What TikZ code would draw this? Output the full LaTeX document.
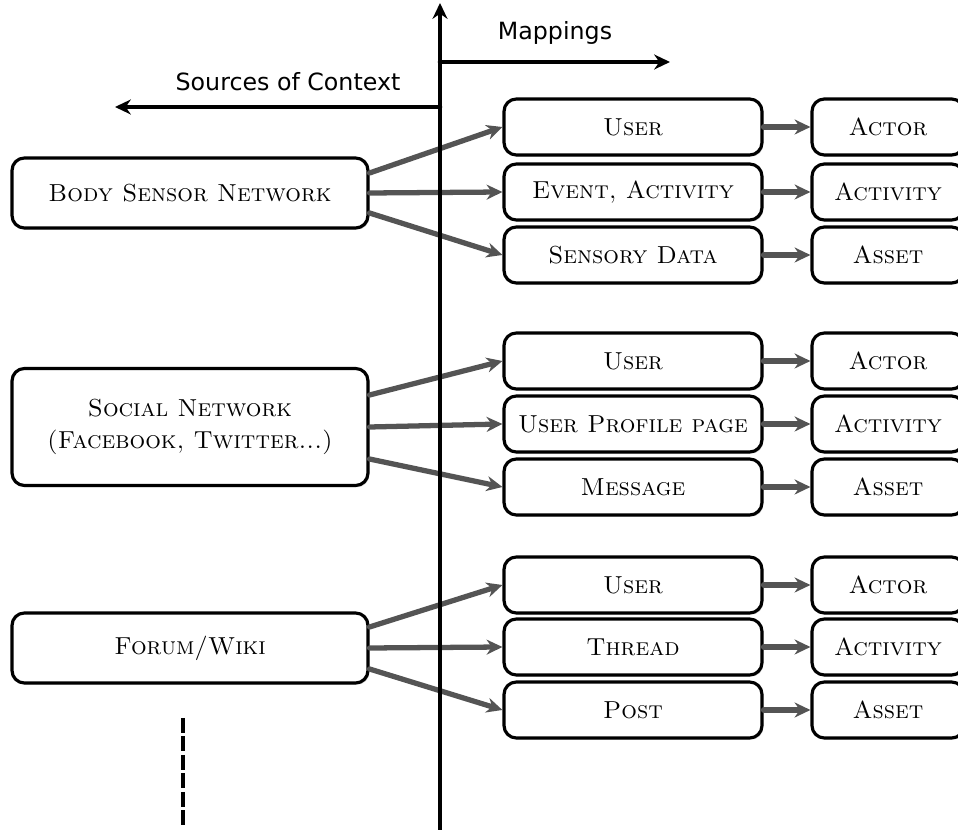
\documentclass[tikz,border=0pt]{standalone}
\usepackage{fontspec}
\newfontfamily\headfont{DejaVu Sans}
\usepackage{tikz}
\usetikzlibrary{arrows.meta, calc, positioning, shadows}
\definecolor{linkgray}{rgb}{0.33, 0.33, 0.33}

\tikzset{
	srcbox/.style={draw, line width=1.8pt, rounded corners=7pt, fill=white, align=center,
		minimum width=7.12cm, minimum height=1.4cm, font=\fontsize{14}{18.5}\selectfont\scshape,
		drop shadow={shadow xshift=0.8pt, shadow yshift=-1pt, fill=gray!60}},
	mapbox/.style={srcbox, minimum width=5.16cm, minimum height=1.12cm},
	ctxbox/.style={srcbox, minimum width=3.04cm, minimum height=1.12cm},
	link/.style={->, line width=3pt, linkgray},
	axis/.style={->, line width=2.6pt, black},
	heading/.style={font=\headfont\fontsize{13.5}{15}\selectfont}
}

\begin{document}
\begin{tikzpicture}[line cap=round, line join=round, >={Stealth[length=9pt,width=8.5pt]}, x=0.02cm, y=-0.02cm]
	% page frame
	\useasboundingbox (0,0) rectangle (958,830);

	% sources of context
	\node[srcbox] (bsn) at (190,193) {Body Sensor Network};
	\node[srcbox, minimum height=2.34cm] (soc) at (190,427) {Social Network\\(Facebook, Twitter...)};
	\node[srcbox] (wiki) at (190,648) {Forum/Wiki};

	% mappings
	\node[mapbox] (usr1) at (633,127) {User};
	\node[mapbox] (evt1) at (633,192) {Event, Activity};
	\node[mapbox] (sdat1) at (633,255) {Sensory Data};
	\node[mapbox] (usr2) at (633,361) {User};
	\node[mapbox] (prof2) at (633,424) {User Profile page};
	\node[mapbox] (msg2) at (633,487) {Message};
	\node[mapbox] (usr3) at (633,585) {User};
	\node[mapbox] (thr3) at (633,647) {Thread};
	\node[mapbox] (post3) at (633,710) {Post};

	% context model
	\node[ctxbox] (actr1) at (888,127) {Actor};
	\node[ctxbox] (actv1) at (888,192) {Activity};
	\node[ctxbox] (asst1) at (888,255) {Asset};
	\node[ctxbox] (actr2) at (888,361) {Actor};
	\node[ctxbox] (actv2) at (888,424) {Activity};
	\node[ctxbox] (asst2) at (888,487) {Asset};
	\node[ctxbox] (actr3) at (888,585) {Actor};
	\node[ctxbox] (actv3) at (888,647) {Activity};
	\node[ctxbox] (asst3) at (888,710) {Asset};

	% source -> mapping
	\draw[link] ($(bsn.east)+(0,-20)$)--(usr1.west);
	\draw[link] (bsn.east)--(evt1.west);
	\draw[link] ($(bsn.east)+(0,20)$)--(sdat1.west);
	\draw[link] ($(soc.east)+(0,-32)$)--(usr2.west);
	\draw[link] (soc.east)--(prof2.west);
	\draw[link] ($(soc.east)+(0,32)$)--(msg2.west);
	\draw[link] ($(wiki.east)+(0,-21)$)--(usr3.west);
	\draw[link] (wiki.east)--(thr3.west);
	\draw[link] ($(wiki.east)+(0,21)$)--(post3.west);

	% mapping -> context model
	\draw[link] (usr1)--(actr1);
	\draw[link] (evt1)--(actv1);
	\draw[link] (sdat1)--(asst1);
	\draw[link] (usr2)--(actr2);
	\draw[link] (prof2)--(actv2);
	\draw[link] (msg2)--(asst2);
	\draw[link] (usr3)--(actr3);
	\draw[link] (thr3)--(actv3);
	\draw[link] (post3)--(asst3);

	% axes
	\coordinate (O) at (440,830);
	\coordinate (T) at (440,3);
	\coordinate (S0) at (440,107);
	\coordinate (S1) at (115,107);
	\coordinate (M0) at (440,62);
	\coordinate (M1) at (670,62);
	\draw[axis] (O)--(T);
	\draw[axis] (S0)--(S1);
	\draw[axis] (M0)--(M1);
	\node[heading] (srclbl) at (288,82) {Sources of Context};
	\node[heading] (maplbl) at (555,33) {Mappings};

	% more sources
	\coordinate (D0) at (183,718);
	\coordinate (D1) at (183,825);
	\draw[line width=2.8pt, line cap=butt, dash pattern=on 8.5pt off 2pt] (D0)--(D1);
\end{tikzpicture}
\end{document}
